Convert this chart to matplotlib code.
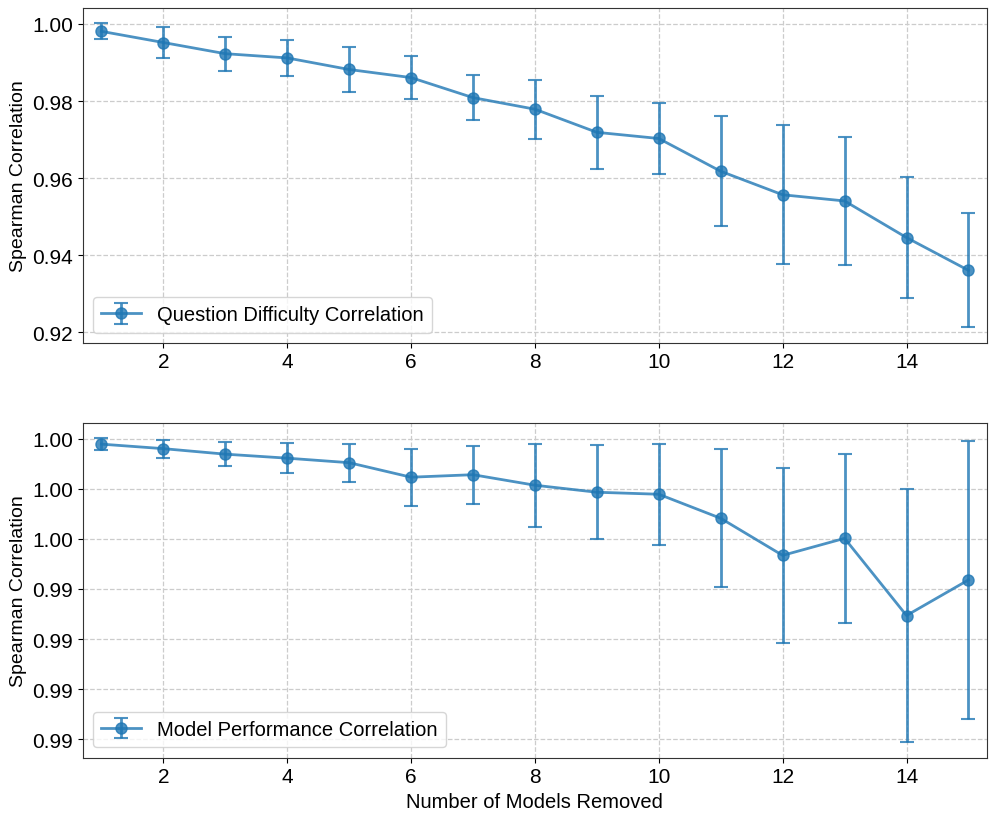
import matplotlib.pyplot as plt
from matplotlib.ticker import FormatStrFormatter, FixedLocator, MultipleLocator

# ── Data ─────────────────────────────────────────────────────────────────────
n_removed = [1, 2, 3, 4, 5, 6, 7, 8, 9, 10, 11, 12, 13, 14, 15]

question_mean = [0.9981, 0.9952, 0.9923, 0.9912, 0.9882, 0.9861, 0.9809, 0.9779,
                 0.9719, 0.9703, 0.9618, 0.9557, 0.9541, 0.9446, 0.9361]
question_err = [0.0021, 0.0040, 0.0044, 0.0046, 0.0058, 0.0055, 0.0058, 0.0077,
                0.0095, 0.0091, 0.0143, 0.0180, 0.0166, 0.0156, 0.0148]

model_mean = [0.99789, 0.99780, 0.99769, 0.99761, 0.99752, 0.99723, 0.99728, 0.99707,
              0.99693, 0.99689, 0.99641, 0.99567, 0.99601, 0.99447, 0.99518]
model_err = [0.00012, 0.00018, 0.00024, 0.00030, 0.00038, 0.00057, 0.00058, 0.00083,
             0.00094, 0.00101, 0.00138, 0.00174, 0.00169, 0.00253, 0.00277]

model_yticks = [0.992, 0.993, 0.994, 0.995, 0.996, 0.997, 0.998]
# ─────────────────────────────────────────────────────────────────────────────

plt.rcParams["font.family"] = ["Liberation Sans", "DejaVu Sans"]
plt.rcParams["font.size"] = 14.5

COLOR = "#1f77b4"

fig, axes = plt.subplots(2, 1, figsize=(9.97, 8.2), dpi=100)
fig.subplots_adjust(left=0.083, right=0.990, top=0.989, bottom=0.075, hspace=0.24)

panels = [
    (axes[0], question_mean, question_err, "Question Difficulty Correlation"),
    (axes[1], model_mean, model_err, "Model Performance Correlation"),
]

for ax, mean, err, label in panels:
    ax.errorbar(n_removed, mean, yerr=err, fmt="-o", color=COLOR, alpha=0.8,
                linewidth=2, markersize=8, capsize=5, elinewidth=2,
                capthick=1.5, label=label)
    ax.set_ylabel("Spearman Correlation", fontsize=14)
    ax.grid(True, linestyle="--", color="#cccccc", linewidth=0.9)
    ax.set_xlim(0.7, 15.3)
    ax.set_xticks([2, 4, 6, 8, 10, 12, 14])
    ax.tick_params(labelsize=15)
    for s in ax.spines.values():
        s.set_color("#333333")
    ax.legend(loc="lower left", fontsize=14.5)

axes[0].yaxis.set_major_locator(MultipleLocator(0.02))
axes[0].yaxis.set_major_formatter(FormatStrFormatter("%.2f"))
axes[1].yaxis.set_major_locator(FixedLocator(model_yticks))
axes[1].yaxis.set_major_formatter(FormatStrFormatter("%.2f"))
axes[1].set_xlabel("Number of Models Removed", fontsize=14.5)

fig.savefig("out.png", dpi=100)
